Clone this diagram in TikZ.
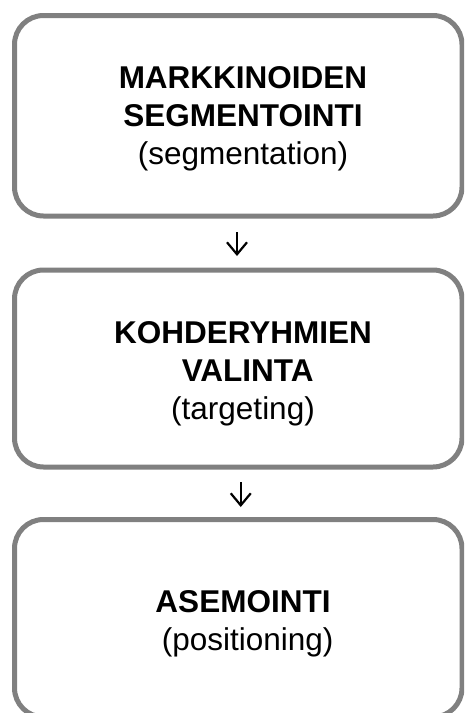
\documentclass[tikz,border=0pt]{standalone}
\usepackage{fontspec}
\setmainfont{Liberation Sans}
\usetikzlibrary{arrows.meta}
\definecolor{boxgray}{RGB}{128,128,128}
\begin{document}
\begin{tikzpicture}[x=1pt,y=-1pt,
  stage/.style={draw=boxgray, line width=5pt, rounded corners=29pt, rectangle,
    inner sep=0pt, outer sep=0pt, minimum width=447.5pt},
  caption/.style={align=center, inner sep=0pt,
    font=\fontsize{31.5}{38}\selectfont},
  flow/.style={-{Straight Barb[length=12pt,width=20pt]}, line width=2.2pt}]
\useasboundingbox (0,0) rectangle (464,713);
\clip (0,0) rectangle (464,713);
\fill[white] (0,0) rectangle (464,713);

% the three stages
\node[stage, minimum height=200.5pt] (seg) at (238.25,115.75) {};
\node[stage, minimum height=197pt]   (tar) at (238.25,368.5) {};
\node[stage, minimum height=197.5pt] (pos) at (238.25,618.25) {};

% stage captions
\node[caption] (segtxt) at (243,118.5)
  {\textbf{MARKKINOIDEN}\\\textbf{SEGMENTOINTI}\\(segmentation)};
\node[caption] (tartxt) at (243,374)
  {\textbf{KOHDERYHMIEN}\\\textbf{\hspace*{0.3em}VALINTA}\\(targeting)};
\node[caption] (postxt) at (243,623.5)
  {\textbf{ASEMOINTI}\\\hspace*{0.3em}(positioning)};

% flow between stages
\draw[flow] ([xshift=-1.25pt,yshift=-16pt]seg.south) -- ([xshift=-1.25pt,yshift=14pt]tar.north);
\draw[flow] ([xshift=2.5pt,yshift=-15pt]tar.south) -- ([xshift=2.5pt,yshift=12.5pt]pos.north);
\end{tikzpicture}
\end{document}
